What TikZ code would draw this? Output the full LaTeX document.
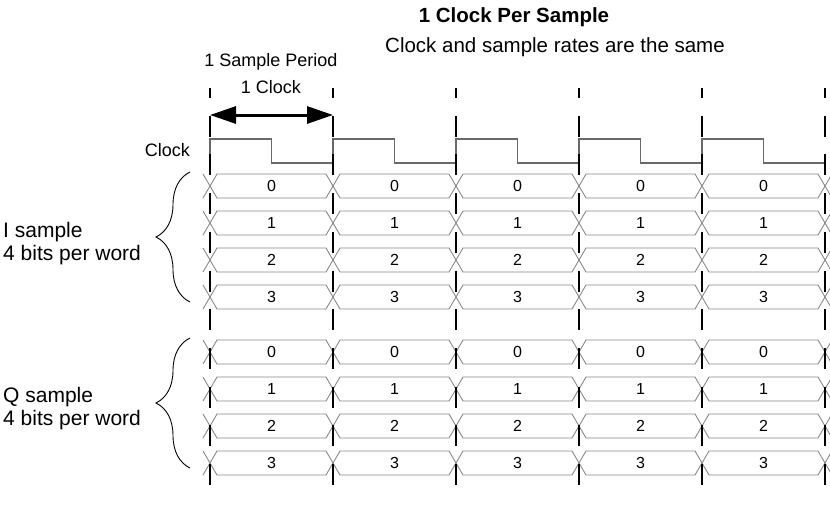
\documentclass[tikz,border=0pt]{standalone}
\usepackage{fontspec}
\setmainfont{Liberation Sans}
\usetikzlibrary{arrows.meta,decorations.pathreplacing}
\definecolor{busgray}{RGB}{135,135,135}
\definecolor{clockgray}{RGB}{105,105,105}
\tikzset{
  busline/.style={draw=busgray,line width=0.9pt},
  clockline/.style={draw=clockgray,line width=1.1pt},
  sampleline/.style={draw=black,line width=2.2pt,dash pattern=on 21pt off 17.7pt,dash phase=11pt},
  periodarrow/.style={line width=3pt,{Triangle[length=26pt,width=17pt]}-{Triangle[length=26pt,width=17pt]}},
  bracket/.style={draw=black,line width=0.9pt,decorate,decoration={brace,amplitude=34pt}},
  bitlabel/.style={inner sep=0pt,font=\fontsize{16}{18}\selectfont},
  labeltext/.style={inner sep=0pt,font=\fontsize{18}{21}\selectfont},
  sidetext/.style={inner sep=0pt,align=left,anchor=west,font=\fontsize{21}{23}\selectfont}
}
% one bit line: #1 = centre y, #2 = bit, #3 = name prefix
\newcommand{\busrow}[3]{
  \draw[busline] (203,#1-12) -- (210,#1) -- (203,#1+12);
  \foreach \t in {0,...,4}{
    \draw[busline] ({210+123*\t},#1) -- ({217+123*\t},#1-12) -- ({326+123*\t},#1-12)
      -- ({333+123*\t},#1) -- ({326+123*\t},#1+12) -- ({217+123*\t},#1+12) -- cycle;
    \node[bitlabel] (#3\t) at ({271.5+123*\t},#1) {#2};
  }
  \draw[busline] (832,#1-12) -- (825,#1) -- (832,#1+12);
}

\begin{document}
\begin{tikzpicture}[x=1pt,y=-1pt]
  \useasboundingbox (0,0) rectangle (830,515);
  \node[font=\fontsize{20.5}{23}\selectfont\bfseries,inner sep=0pt] (title) at (514,17) {1 Clock Per Sample};
  \node[font=\fontsize{20.5}{23}\selectfont,inner sep=0pt] (subtitle) at (555,47) {Clock and sample rates are the same};
  \node[labeltext] (periodlbl) at (271,62) {1 Sample Period};
  \node[labeltext] (clocklbl) at (271,87) {1 Clock};
  \node[labeltext,anchor=east] (clockname) at (190,150) {Clock};

  % clock waveform
  \draw[clockline] (210,163) \foreach \t in {0,...,4}{
    -- ({210+123*\t},139) -- ({271.5+123*\t},139) -- ({271.5+123*\t},163) -- ({333+123*\t},163)};

  % I word
  \busrow{186}{0}{ia}
  \busrow{223}{1}{ib}
  \busrow{260}{2}{ic}
  \busrow{297}{3}{id}
  % Q word
  \busrow{352}{0}{qa}
  \busrow{389}{1}{qb}
  \busrow{426}{2}{qc}
  \busrow{463}{3}{qd}

  % sample boundaries
  \foreach \t in {0,...,5}{
    \coordinate (top\t) at ({210+123*\t},88);
    \coordinate (bot\t) at ({210+123*\t},487);
    \draw[sampleline] (top\t) -- (bot\t);
  }
  \coordinate (arrowl) at (210,115);
  \coordinate (arrowr) at (333,115);
  \draw[periodarrow] (arrowl) -- (arrowr);

  % word brackets
  \coordinate (itop) at (190,172);
  \coordinate (ibot) at (190,302);
  \draw[bracket] (ibot) -- (itop);
  \node[sidetext] (ilbl) at (3,244) {I sample\\4 bits per word};
  \coordinate (qtop) at (190,338);
  \coordinate (qbot) at (190,468);
  \draw[bracket] (qbot) -- (qtop);
  \node[sidetext] (qlbl) at (3,409) {Q sample\\4 bits per word};
\end{tikzpicture}
\end{document}
